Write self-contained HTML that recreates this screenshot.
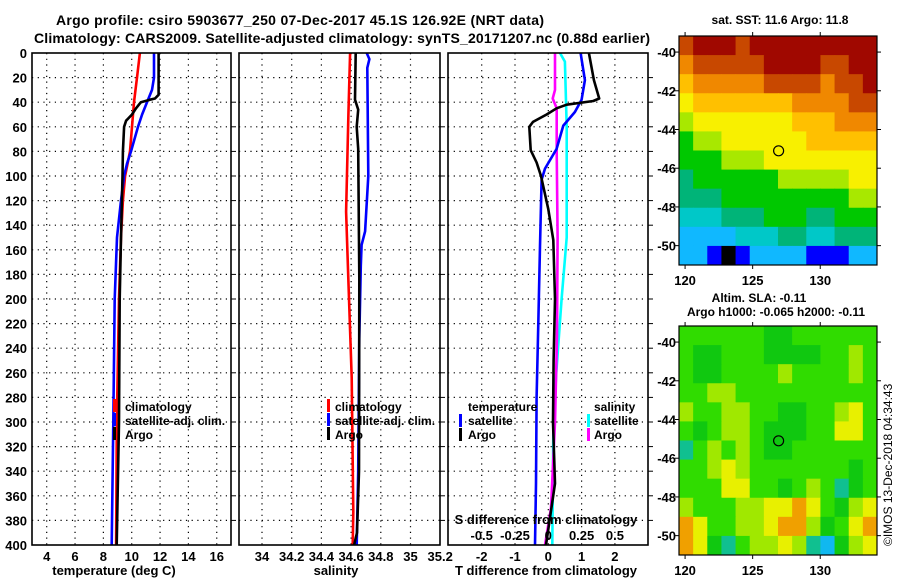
<!DOCTYPE html>
<html><head><meta charset="utf-8"><style>
body{margin:0;background:#fff}
svg{display:block;font-family:"Liberation Sans",Arial,sans-serif;font-weight:bold}
</style></head><body>
<svg id="c" width="900" height="580" viewBox="0 0 900 580">
<text x="300" y="25" text-anchor="middle" font-size="14" textLength="488">Argo profile: csiro 5903677_250 07-Dec-2017 45.1S 126.92E (NRT data)</text>
<text x="342" y="43" text-anchor="middle" font-size="14" textLength="616">Climatology: CARS2009. Satellite-adjusted climatology: synTS_20171207.nc (0.88d earlier)</text>
<g id="grid"></g><g id="lines"></g><g id="maps"></g><g id="frames"></g><g id="labels"></g>
<text x="114" y="575" text-anchor="middle" font-size="13">temperature (deg C)</text>
<text x="336" y="575" text-anchor="middle" font-size="13">salinity</text>
<text x="546" y="575" text-anchor="middle" font-size="13">T difference from climatology</text>
<text x="546" y="524" text-anchor="middle" font-size="13">S difference from climatology</text>
<text x="780" y="24" text-anchor="middle" font-size="12">sat. SST: 11.6 Argo: 11.8</text>
<text x="759" y="302" text-anchor="middle" font-size="12">Altim. SLA: -0.11</text>
<text x="776" y="316" text-anchor="middle" font-size="12">Argo h1000: -0.065 h2000: -0.11</text>
<text transform="translate(892,546) rotate(-90)" font-size="12" font-weight="normal">©IMOS 13-Dec-2018 04:34:43</text>
<g font-size="12">
<rect x="113" y="399" width="3" height="13" fill="#f00"/>
<text x="125" y="411">climatology</text>
<rect x="113" y="413" width="3" height="13" fill="#00f"/>
<text x="125" y="425">satellite-adj. clim.</text>
<rect x="113" y="427" width="3" height="13" fill="#000"/>
<text x="125" y="439">Argo</text>
<rect x="327" y="399" width="3" height="13" fill="#f00"/>
<text x="335" y="411">climatology</text>
<rect x="327" y="413" width="3" height="13" fill="#00f"/>
<text x="335" y="425">satellite-adj. clim.</text>
<rect x="327" y="427" width="3" height="13" fill="#000"/>
<text x="335" y="439">Argo</text>
<text x="468" y="411">temperature</text>
<rect x="459" y="414" width="3" height="13" fill="#00f"/>
<text x="468" y="425">satellite</text>
<rect x="459" y="428" width="3" height="13" fill="#000"/>
<text x="468" y="439">Argo</text>
<text x="594" y="411">salinity</text>
<rect x="587" y="414" width="3" height="13" fill="#0ff"/>
<text x="594" y="425">satellite</text>
<rect x="587" y="428" width="3" height="13" fill="#f0f"/>
<text x="594" y="439">Argo</text>
</g>
</svg>
<script>
// ---- data ----
const depthTicks=[0,20,40,60,80,100,120,140,160,180,200,220,240,260,280,300,320,340,360,380,400];
const tTicks=[4,6,8,10,12,14,16];
const sTicks=[34,34.2,34.4,34.6,34.8,35,35.2];
const sTickLabels=["34","34.2","34.4","34.6","34.8","35","35.2"];
const dtTicks=[-2,-1,0,1,2];
const dsTicks=[-0.5,-0.25,0,0.25,0.5];
const dsTickLabels=["-0.5","-0.25","0","0.25","0.5"];
const climTDepth=[0,20,40,60,80,100,120,150,200,300,400];
const climT=[10.58,10.37,10.16,10.02,9.88,9.53,9.38,9.24,9.1,8.95,8.9];
const satTDepth=[0,20,30,40,50,60,80,90,100,120,150,200,300,400];
const satT=[11.57,11.57,11.43,11.08,10.73,10.44,9.95,9.67,9.46,9.24,8.96,8.8,8.7,8.59];
const argoTDepth=[0,34,37,38,40,45,50,55,60,80,100,150,200,300,400];
const argoT=[11.9,11.9,11.64,11.29,10.65,10.3,10.02,9.6,9.46,9.38,9.35,9.24,9.15,9.1,8.94];
const climSDepth=[0,50,129,183,264,373,400];
const climS=[34.593,34.582,34.566,34.581,34.604,34.615,34.611];
const satSDepth=[0,5,12,100,145,156,173,232,340,400];
const satS=[34.705,34.723,34.709,34.716,34.694,34.671,34.665,34.655,34.648,34.638];
const argoSDepth=[0,38,46,60,78,183,340,390,400];
const argoS=[34.631,34.626,34.648,34.638,34.648,34.655,34.653,34.64,34.62];
const dTsatDepth=[0,22,38,48,59,78,94,103,157,220,280,350,400];
const dTsat=[0.97,1.1,1.0,0.8,0.45,0.25,-0.1,-0.2,-0.25,-0.3,-0.35,-0.37,-0.4];
const dTargoDepth=[0,22,37,39,42,45,50,56,60,79,89,100,127,152,200,250,300,350,400];
const dTargo=[1.22,1.37,1.53,1.35,0.55,0.25,-0.05,-0.46,-0.57,-0.53,-0.35,-0.22,0,0.15,0.2,0.16,0.14,0.2,-0.07];
const dSargoDepth=[0,30,37,45,80,150,230,300,370,400];
const dSargo=[0.05,0.05,0.033,0.063,0.063,0.07,0.065,0.05,0.02,-0.025];
const dSsatDepth=[0,7,60,150,200,260,300,400];
const dSsat=[0.088,0.125,0.138,0.138,0.1,0.06,0.038,0.03];
const mapLon=[120,125,130];
const mapLat=[-40,-42,-44,-46,-48,-50];
const sstGrid=[
"a b b b a b b b b b b b b b","9 a a a a a b b b b a a b b","8 9 9 9 9 9 a a a a 9 a a b",
"7 8 8 8 8 8 8 8 9 9 9 9 a a","6 7 7 7 7 7 7 7 8 8 8 9 9 9","5 6 6 7 7 7 7 7 7 8 8 8 8 8",
"5 5 5 6 6 6 7 7 7 7 7 7 7 7","4 5 5 5 5 5 5 6 6 6 6 6 7 7","4 4 4 5 5 5 5 5 5 5 5 5 6 6",
"3 3 3 4 4 4 5 5 5 4 4 5 5 5","2 2 2 2 3 3 3 4 4 3 3 4 4 4","2 2 1 0 1 2 2 2 2 1 1 1 2 2"];
const slaGrid=[
"3 3 3 3 3 3 2 2 3 3 3 3 3 3","3 2 2 3 3 3 2 2 2 2 3 3 4 3","3 2 2 3 3 3 3 4 3 3 3 3 4 3",
"3 3 4 4 3 3 3 3 3 3 3 3 3 3","4 3 3 4 4 3 3 2 2 3 3 4 5 3","3 2 3 4 4 3 2 2 2 3 3 5 5 3",
"1 3 4 3 4 3 2 2 3 3 3 3 3 3","3 3 4 5 4 3 3 3 3 3 3 3 2 3","3 3 3 5 5 3 3 2 3 4 3 1 2 3",
"4 3 3 3 4 4 5 5 6 5 3 2 4 5","6 5 3 3 4 4 5 6 6 4 2 3 5 6","6 5 2 1 3 4 4 5 4 1 0 2 4 5"];
const floatLon=126.92, floatLat=-45.1;
// ---- scales ----
const NS='http://www.w3.org/2000/svg';
const yD=d=>53+d*1.23;
const xT=t=>46.7+(t-4)*14.17;
const xS=s=>262+(s-34)*148.5;
const xDT=t=>548.3+t*33.3;
const xDS=s=>548.3+s*133.2;
const P=[[32,231],[239,440],[448,648]];
const Y0=53,Y1=545;
function el(tag,attrs,parent){const e=document.createElementNS(NS,tag);for(const k in attrs)e.setAttribute(k,attrs[k]);parent.appendChild(e);return e;}
const G=document.getElementById('grid'),L=document.getElementById('lines'),F=document.getElementById('frames'),T=document.getElementById('labels'),M=document.getElementById('maps');
// grid
P.forEach((p,i)=>{depthTicks.forEach(d=>{if(d===0||d===400)return;
 const g=el('line',{x1:p[0],x2:p[1],y1:yD(d),y2:yD(d),stroke:'#000','stroke-width':1.2,'stroke-dasharray':'1.2,4.5'},G);
 
 
 const tk=el('line',{x1:p[1],x2:p[1]+5,y1:yD(d),y2:yD(d),stroke:'#000','stroke-width':1},F);
 
 });});
function vgrid(vals,fx){vals.forEach(v=>{const x=fx(v);
 const g=el('line',{x1:x,x2:x,y1:Y0,y2:Y1,stroke:'#000','stroke-width':1.2,'stroke-dasharray':'1.2,4.5'},G);
 
 });}
vgrid(tTicks,xT);vgrid(sTicks.slice(0,6),xS);vgrid(dtTicks,xDT);
// frames
P.forEach((p,i)=>{const r=el('rect',{x:p[0],y:Y0,width:p[1]-p[0],height:Y1-Y0,fill:'none',stroke:'#000','stroke-width':1.6},F);
 
 });
// labels
depthTicks.forEach(d=>{const t=el('text',{x:27,y:yD(d)+5,'text-anchor':'end','font-size':13},T);t.textContent=d;
 
 });
tTicks.forEach(v=>{const t=el('text',{x:xT(v),y:561,'text-anchor':'middle','font-size':13},T);t.textContent=v;
 
 });
sTicks.forEach((v,i)=>{const t=el('text',{x:xS(v),y:561,'text-anchor':'middle','font-size':13},T);t.textContent=sTickLabels[i];
 
 });
dtTicks.forEach(v=>{const t=el('text',{x:xDT(v),y:561,'text-anchor':'middle','font-size':13},T);t.textContent=v;
 
 });
dsTicks.forEach((v,i)=>{const t=el('text',{x:xDS(v),y:540,'text-anchor':'middle','font-size':13},T);t.textContent=dsTickLabels[i];
 
 });
// lines
function line(dep,vals,fx,color,name,w){const pts=dep.map((d,i)=>fx(vals[i]).toFixed(1)+','+yD(d).toFixed(1)).join(' ');
 const pl=el('polyline',{points:pts,fill:'none',stroke:color,'stroke-width':w||2.6,'stroke-linejoin':'round'},L);
 
 }
line(climTDepth,climT,xT,'#f00','climatology-temperature-line');
line(satTDepth,satT,xT,'#00f','satellite-temperature-line');
line(argoTDepth,argoT,xT,'#000','argo-temperature-line');
line(climSDepth,climS,xS,'#f00','climatology-salinity-line');
line(satSDepth,satS,xS,'#00f','satellite-salinity-line');
line(argoSDepth,argoS,xS,'#000','argo-salinity-line');
line(dSsatDepth,dSsat,xDS,'#0ff','satellite-s-difference-line');
line(dSargoDepth,dSargo,xDS,'#f0f','argo-s-difference-line');
line(dTsatDepth,dTsat,xDT,'#00f','satellite-t-difference-line');
line(dTargoDepth,dTargo,xDT,'#000','argo-t-difference-line');
// maps
const sstCols=['#000000','#0000ff','#10b8ff','#00c8c8','#00b478','#00c800','#a8e800','#f8f000','#ffc000','#f08800','#c84800','#a00800'];
const slaCols=['#10b8f0','#10c090','#10c810','#30dc00','#a0e800','#e8f000','#f0a000'];
const MX0=679,MX1=877,LON0=119.55,LON1=134.2,LAT0=-39.17,LAT1=-51.0;
function map(grid,cols,top,name){const H=229,W=MX1-MX0;const rows=grid.length;
 const lonX=lo=>MX0+(lo-LON0)/(LON1-LON0)*W, latY=la=>top+(la-LAT0)/(LAT1-LAT0)*H;
 grid.forEach((row,r)=>{row.split(' ').forEach((c,ci,arr)=>{const v=parseInt(c,16);
  const x=MX0+ci*W/arr.length,y=top+r*H/rows;
  const cell=el('rect',{x:x,y:y,width:W/arr.length+0.5,height:H/rows+0.5,fill:cols[v]},M);
  
  });});
 const fr=el('rect',{x:MX0,y:top,width:W,height:H,fill:'none',stroke:'#000','stroke-width':1.2},F);
 
 
 const c=el('circle',{cx:lonX(floatLon),cy:latY(floatLat),r:5,fill:'none',stroke:'#000','stroke-width':1.2},F);
 
 
 mapLon.forEach(lo=>{const x=lonX(lo);
  el('line',{x1:x,x2:x,y1:top-4,y2:top,stroke:'#000'},F);el('line',{x1:x,x2:x,y1:top+H,y2:top+H+4,stroke:'#000'},F);
  const t=el('text',{x:x,y:top+H+20,'text-anchor':'middle','font-size':13},T);t.textContent=lo;
  
  });
 mapLat.forEach(la=>{const y=latY(la);
  el('line',{x1:MX0-4,x2:MX0,y1:y,y2:y,stroke:'#000'},F);el('line',{x1:MX1,x2:MX1+4,y1:y,y2:y,stroke:'#000'},F);
  const t=el('text',{x:676,y:y+5,'text-anchor':'end','font-size':13},T);t.textContent=la;
  
  });}
map(sstGrid,sstCols,36,'sst-map');
map(slaGrid,slaCols,326,'sla-map');
</script>
</body></html>
